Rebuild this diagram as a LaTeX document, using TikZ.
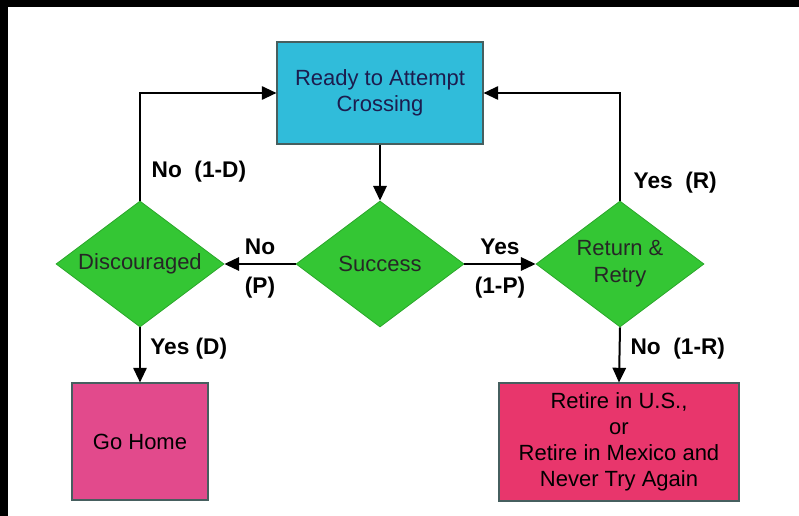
\documentclass[tikz,border=0pt]{standalone}
\usepackage{fontspec}
\setmainfont{Liberation Sans}
\usetikzlibrary{shapes.geometric,arrows.meta}

\definecolor{crossblue}{RGB}{48,188,218}
\definecolor{decgreen}{RGB}{52,198,52}
\definecolor{homepink}{RGB}{226,74,140}
\definecolor{retirered}{RGB}{232,54,108}
\definecolor{boxedge}{RGB}{70,95,95}
\definecolor{readyink}{RGB}{28,28,78}

\tikzset{
  statebox/.style={rectangle, draw=boxedge, line width=0.8pt, inner sep=0pt, align=center,
    font=\fontsize{16.5}{19.5}\selectfont},
  decision/.style={diamond, aspect=1.33, fill=decgreen, draw=decgreen!85!black, line width=0.6pt, inner sep=0pt,
    minimum width=126pt, minimum height=94.5pt, align=center, text=black!85,
    font=\fontsize{16.5}{20}\selectfont},
  flow/.style={line width=1.5pt, -{Triangle[length=11pt,width=10pt]}},
  branch/.style={font=\bfseries\fontsize{17}{20}\selectfont, inner sep=2pt}
}

\begin{document}
\begin{tikzpicture}[x=0.75pt, y=-0.75pt]
  \useasboundingbox (0,0) rectangle (799,516);
  \fill[black] (0,0) rectangle (799,7);
  \fill[black] (0,0) rectangle (8,516);

  % states
  \node[statebox, fill=crossblue, text=readyink, minimum width=154.5pt, minimum height=76.5pt] (ready) at (380, 93) {Ready to Attempt\\Crossing};
  \node[decision] (disc) at (140, 264) {Discouraged};
  \node[decision] (success) at (380, 264) {Success};
  \node[decision] (retry) at (620, 264) {Return \&\\Retry};
  \node[statebox, fill=homepink, minimum width=102pt, minimum height=87.75pt] (home) at (140, 441.5) {Go Home};
  \node[statebox, fill=retirered, minimum width=180pt, minimum height=88.5pt] (retire) at (619, 442) {Retire in U.S.,\\or\\Retire in Mexico and\\Never Try Again};

  % transitions
  \draw[flow] (ready.south) -- (success.north);
  \draw[flow] (success.west) -- node[branch, above=4pt] {No} node[branch, below=7pt] {(P)} (disc.east);
  \draw[flow] (success.east) -- node[branch, above=4pt] {Yes} node[branch, below=7pt] {(1-P)} (retry.west);
  \draw[flow] (disc.north) |- node[branch, right=6pt, pos=0.135] {No\ \ (1-D)} (ready.west);
  \draw[flow] (retry.north) |- node[branch, right=7.5pt, pos=0.084] {Yes\ \ (R)} (ready.east);
  \draw[flow] (disc.south) -- node[branch, right=5pt, pos=0.38] {Yes (D)} (home.north);
  \draw[flow] (retry.south) -- node[branch, right=5.5pt, pos=0.38] {No\ \ (1-R)} (retire.north);
\end{tikzpicture}
\end{document}
